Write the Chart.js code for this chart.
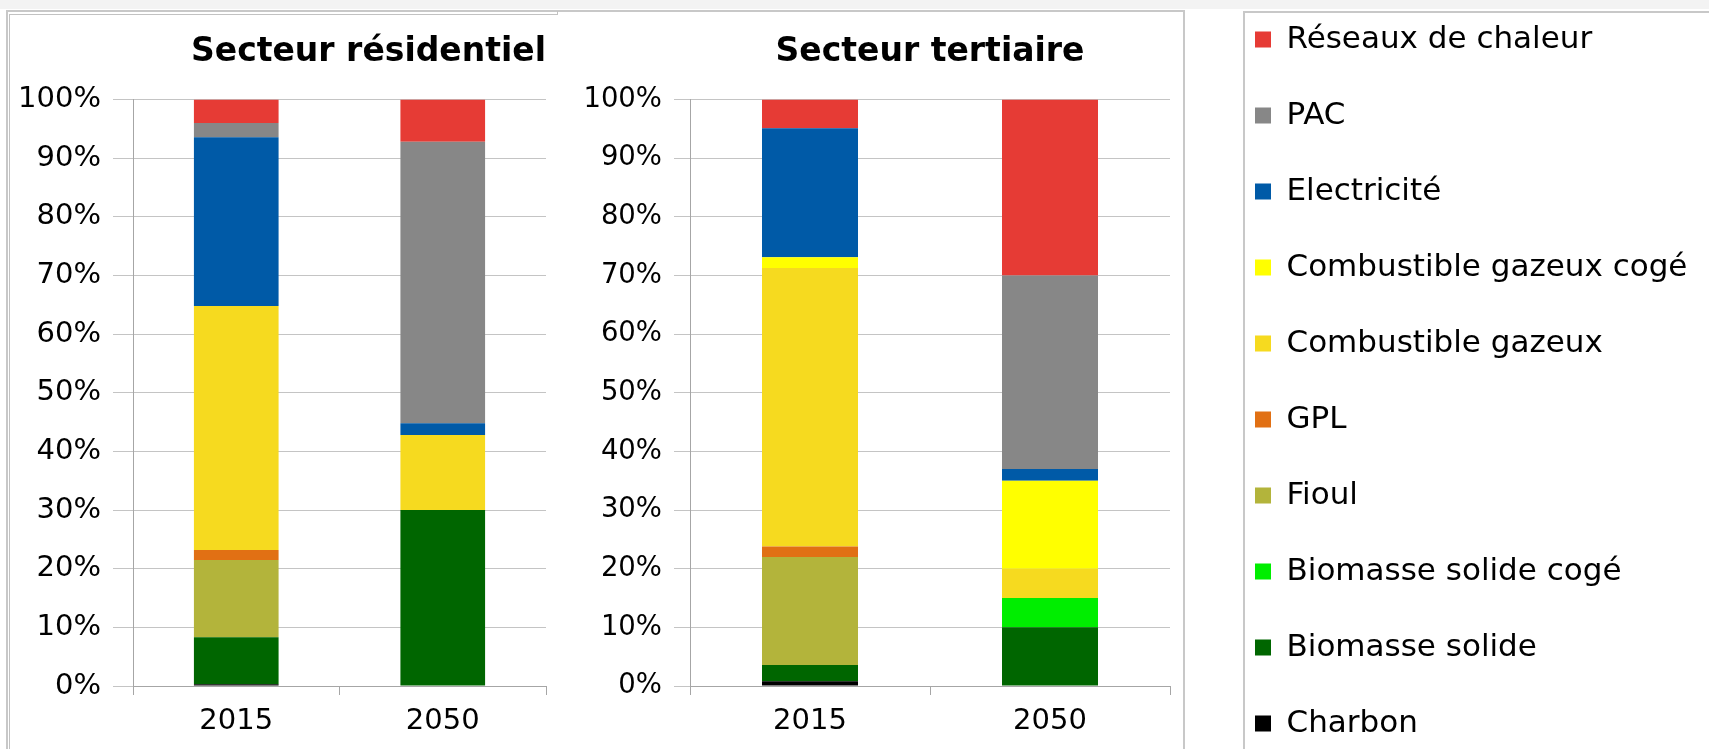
<!DOCTYPE html>
<html>
<head>
<meta charset="utf-8">
<script src="https://cdn.jsdelivr.net/npm/chart.js@4/dist/chart.umd.min.js"></script>
<style>
  html, body { margin: 0; padding: 0; background: #fff; }
  body { position: relative; width: 1709px; height: 749px; overflow: hidden; }
  .band { position: absolute; left: 0; top: 0; width: 1709px; height: 9px; background: #f3f3f3; }
  .frame { position: absolute; left: 6px; top: 10px; width: 1175px; height: 800px; border: 2px solid #c8c8c8; border-bottom: none; }
  .inner { position: absolute; left: 9px; top: 14px; width: 548px; height: 800px; border-left: 1px solid #c2c2c2; border-top: 1px solid #c2c2c2; }
  .step { position: absolute; left: 557px; top: 11px; width: 1px; height: 4px; background: #c2c2c2; }
  .legendbox { position: absolute; left: 1243px; top: 11px; width: 500px; height: 800px; border-left: 2px solid #c8c8c8; border-top: 2px solid #c8c8c8; }
  canvas { position: absolute; }
</style>
</head>
<body>
<div class="band"></div>
<div class="frame"></div>
<div class="inner"></div>
<div class="step"></div>
<div class="legendbox"></div>
<canvas id="residentiel" width="557" height="749" style="left:0;top:0"></canvas>
<canvas id="tertiaire" width="624" height="749" style="left:560px;top:0"></canvas>
<canvas id="legende" width="2000" height="830" style="left:1210px;top:-21px"></canvas>
<script>
const categories = ["2015", "2050"];

// ordre d'empilement, du bas vers le haut
const seriesNames = [
  "Charbon",
  "Biomasse solide",
  "Biomasse solide cogé",
  "Fioul",
  "GPL",
  "Combustible gazeux",
  "Combustible gazeux cogé",
  "Electricité",
  "PAC",
  "Réseaux de chaleur"
];
const seriesColors = [
  "#000000", "#006600", "#00ee00", "#b3b43b", "#e17014",
  "#f6da1f", "#ffff00", "#005aa7", "#878787", "#e63b35"
];

// parts en %
const residentiel2015 = [0.3, 8.0, 0, 13.2, 1.7, 41.6, 0, 28.8, 2.4, 4.0];
const residentiel2050 = [0, 30.0, 0, 0, 0, 12.8, 0, 2.0, 48.0, 7.2];
const tertiaire2015 = [0.8, 2.8, 0, 18.4, 1.8, 47.5, 1.8, 22.0, 0, 4.9];
const tertiaire2050 = [0, 10.0, 5.0, 0, 0, 5.0, 15.0, 2.0, 33.0, 30.0];

Chart.defaults.font.family = "'DejaVu Sans', sans-serif";
Chart.defaults.color = "#000";

function datasets(v2015, v2050, barPct) {
  return seriesNames.map((name, i) => ({
    label: name,
    data: [v2015[i], v2050[i]],
    backgroundColor: seriesColors[i],
    borderWidth: 0,
    barPercentage: barPct,
    categoryPercentage: 1
  }));
}

function options(title, o) {
  return {
    responsive: false,
    animation: false,
    layout: { padding: { right: o.padRight } },
    plugins: {
      legend: { display: false },
      tooltip: { enabled: false },
      title: {
        display: true,
        text: title,
        fullSize: false,
        align: o.titleAlign,
        color: "#000",
        font: { size: 33, weight: "bold" },
        padding: { top: 33, bottom: 27 }
      }
    },
    scales: {
      x: {
        stacked: true,
        grid: { drawOnChartArea: false, tickLength: 9, color: "#a6a6a6" },
        border: { color: "#a6a6a6" },
        ticks: { padding: 9, font: { size: 29 }, color: "#000" },
        afterFit: s => { s.height = 63; }
      },
      y: {
        stacked: true,
        min: 0,
        max: 100,
        ticks: {
          stepSize: 10,
          padding: 12,
          font: { size: o.yFont },
          color: "#000",
          callback: v => v + "%"
        },
        grid: { color: "#c4c4c4", tickLength: o.yTick },
        border: { color: "#a6a6a6" },
        afterFit: s => { s.width = o.yWidth; }
      }
    }
  };
}

new Chart(document.getElementById("residentiel"), {
  type: "bar",
  data: { labels: categories, datasets: datasets(residentiel2015, residentiel2050, 0.41) },
  options: options("Secteur résidentiel", { padRight: 11, titleAlign: "end", yFont: 29, yTick: 20, yWidth: 133 })
});

new Chart(document.getElementById("tertiaire"), {
  type: "bar",
  data: { labels: categories, datasets: datasets(tertiaire2015, tertiaire2050, 0.40) },
  options: options("Secteur tertiaire", { padRight: 14, titleAlign: "center", yFont: 27.5, yTick: 16, yWidth: 130 })
});

// légende commune
new Chart(document.getElementById("legende"), {
  type: "bar",
  data: {
    labels: categories,
    datasets: seriesNames.map((name, i) => ({ label: name, data: [], backgroundColor: seriesColors[i], borderWidth: 0 }))
  },
  options: {
    responsive: false,
    animation: false,
    plugins: {
      tooltip: { enabled: false },
      legend: {
        position: "left",
        align: "start",
        reverse: true,
        labels: { boxWidth: 16, boxHeight: 16, padding: 45, color: "#000", font: { size: 31 } }
      }
    },
    scales: { x: { display: false }, y: { display: false } }
  }
});
</script>
</body>
</html>
